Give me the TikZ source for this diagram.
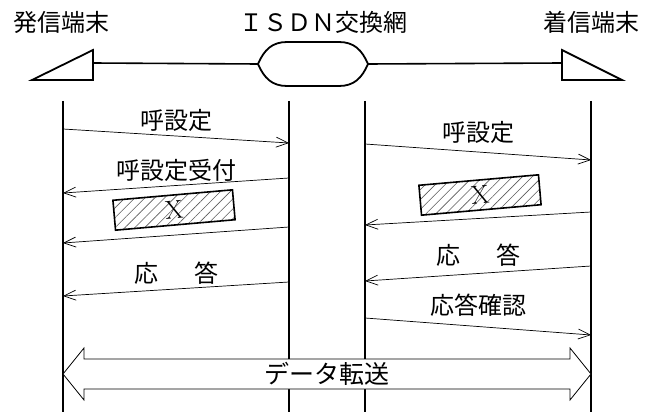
\documentclass[tikz,border=0pt]{standalone}
\usepackage{fontspec}
\newfontfamily\jp{Noto Sans CJK JP}
\usepackage{tikz}
\usetikzlibrary{positioning,calc,arrows.meta,patterns.meta}
\tikzset{>={Straight Barb[length=12pt,width=10pt]}}
\tikzset{
  life/.style={line width=1.6pt},
  msg/.style={->,line width=0.7pt},
  lbl/.style={font=\jp\fontsize{24}{24}\selectfont,inner sep=2pt,midway,above=#1},
  lbl/.default=2pt,
  title/.style={font=\jp\fontsize{24}{24}\selectfont,inner sep=0pt},
  xbox/.style={draw,line width=1.6pt,minimum width=120pt,minimum height=30pt,inner sep=0pt,
    pattern={Lines[angle=45,distance=7pt,line width=0.6pt]},pattern color=black!65,
    font=\fontsize{26}{26}\selectfont},
  term/.style={line width=1.8pt,line join=miter},
}

\begin{document}
\begin{tikzpicture}[x=1pt,y=-1pt]
    \useasboundingbox (0,0) rectangle (646,412);
    % set up the titles
    \node[title] (srcName) at (61,22) {発信端末};
    \node[title] (netName) at (323,22) {ＩＳＤＮ交換網};
    \node[title] (dstName) at (591,22) {着信端末};
    % terminals and network
    \coordinate (srcJoin) at (93,63);
    \coordinate (dstJoin) at (562,63);
    \coordinate (netL) at (258,64);
    \coordinate (netR) at (368,64);
    \draw[term] (32,80) -- (93,50) -- (93,80) -- cycle;
    \draw[term] (562,50) -- (622,80) -- (562,80) -- cycle;
    \draw[term] (netL) .. controls (264,50) and (272,42) .. (287,42) -- (339,42)
        .. controls (354,42) and (362,50) .. (netR)
        .. controls (362,78) and (354,86) .. (339,86) -- (287,86)
        .. controls (272,86) and (264,78) .. (netL) -- cycle;
    \draw[line width=1.6pt] (srcJoin) -- (netL);
    \draw[line width=1.6pt] (netR) -- (dstJoin);
    % lifelines
    \coordinate (srcTop) at (63,101);
    \coordinate (srcBot) at (63,412);
    \coordinate (swLTop) at (289,101);
    \coordinate (swLBot) at (289,412);
    \coordinate (swRTop) at (365,101);
    \coordinate (swRBot) at (365,412);
    \coordinate (dstTop) at (591,101);
    \coordinate (dstBot) at (591,412);
    \draw[life] (srcTop) -- (srcBot);
    \draw[life] (swLTop) -- (swLBot);
    \draw[life] (swRTop) -- (swRBot);
    \draw[life] (dstTop) -- (dstBot);
    % message end points
    \coordinate (a1) at (63,129);  \coordinate (b1) at (289,143);
    \coordinate (b2) at (289,178); \coordinate (a2) at (63,193);
    \coordinate (b3) at (289,227); \coordinate (a3) at (63,243);
    \coordinate (b4) at (289,282); \coordinate (a4) at (63,296);
    \coordinate (c1) at (365,144); \coordinate (d1) at (591,160);
    \coordinate (d2) at (591,212); \coordinate (c2) at (365,225);
    \coordinate (d3) at (591,266); \coordinate (c3) at (365,281);
    \coordinate (c4) at (365,318); \coordinate (d4) at (591,335);
    % draw arrows and text between them
    \draw[msg] (a1)--(b1) node [lbl] {呼設定};
    \draw[msg] (b2)--(a2) node [lbl] {呼設定受付};
    \draw[msg] (b3)--(a3);
    \draw[msg] (b4)--(a4) node [lbl] {応\hspace{1.5em}答};
    \draw[msg] (c1)--(d1) node [lbl=6pt] {呼設定};
    \draw[msg] (d2)--(c2);
    \draw[msg] (d3)--(c3) node [lbl=5pt] {応\hspace{1.5em}答};
    \draw[msg] (c4)--(d4) node [lbl=8pt] {応答確認};
    % hatched boxes
    \node[xbox,rotate=5] (xL) at (174,210) {X};
    \node[xbox,rotate=5] (xR) at (480,195) {X};
    % data transfer
    \coordinate (dataL) at (63,374);
    \coordinate (dataR) at (591,374);
    \draw[line width=0.8pt,fill=white] (dataL) -- ++(21,-26) -- ++(0,11)
        -- ($(dataR)+(-21,-15)$) -- ++(0,-11) -- (dataR) -- ++(-21,26) -- ++(0,-11)
        -- ($(dataL)+(21,15)$) -- ++(0,11) -- cycle;
    \node[font=\jp\fontsize{25}{25}\selectfont,inner sep=0pt] (dataName) at (327,374) {データ転送};
\end{tikzpicture}
\end{document}
